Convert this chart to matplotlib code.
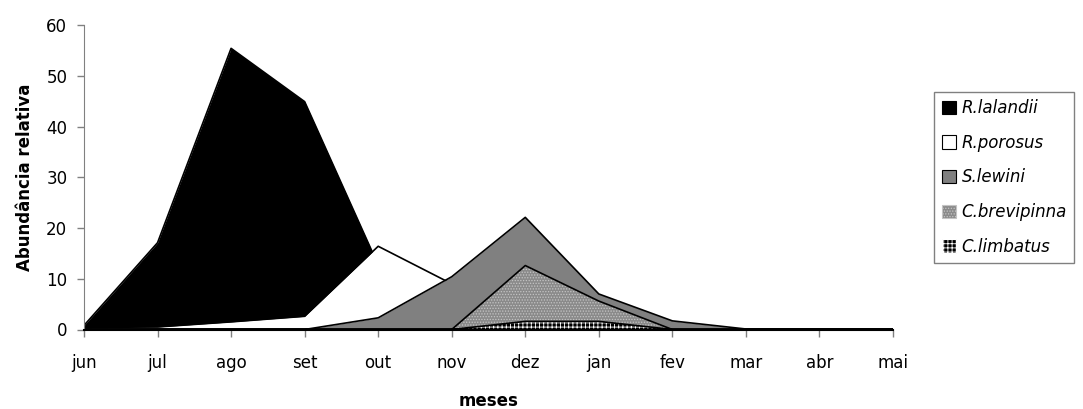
import matplotlib
matplotlib.use("Agg")
import matplotlib.pyplot as plt
from matplotlib.patches import Patch

plt.rcParams['font.family'] = ['DejaVu Sans']
plt.rcParams['hatch.linewidth'] = 0.6

months = ["jun", "jul", "ago", "set", "out", "nov", "dez", "jan", "fev", "mar", "abr", "mai"]

r_lalandii   = [0.8, 17.1, 55.4, 44.9, 12.7, 0, 0, 0, 0, 0, 0, 0]
r_porosus    = [0.4, 0.5, 1.5, 2.6, 16.4, 9.0, 2.0, 0, 0, 0, 0, 0]
s_lewini     = [0, 0, 0, 0, 2.3, 10.4, 22.1, 7.0, 1.7, 0.1, 0, 0]
c_brevipinna = [0, 0, 0, 0, 0, 0, 12.6, 5.6, 0, 0, 0, 0]
c_limbatus   = [0, 0, 0, 0, 0, 0, 1.6, 1.6, 0, 0, 0, 0]

series_names = ["R.lalandii", "R.porosus", "S.lewini", "C.brevipinna", "C.limbatus"]
series_vals = [r_lalandii, r_porosus, s_lewini, c_brevipinna, c_limbatus]
# (face colour, hatch, hatch colour)
styles = [
    ("#000000", None, "#000000"),
    ("#ffffff", None, "#ffffff"),
    ("#808080", None, "#808080"),
    ("#8a8a8a", "......", "#c4c4c4"),
    ("#000000", "++++", "#ffffff"),
]

FS = 12

fig = plt.figure(figsize=(10.83, 4.09), dpi=100)
ax = fig.add_axes([84 / 1083, 1 - 329.5 / 409, (893 - 84) / 1083, (329.5 - 25) / 409])

x = list(range(len(months)))
for vals, (fc, hatch, hc) in zip(series_vals, styles):
    ax.fill_between(x, 0, vals, facecolor=fc, edgecolor=hc, hatch=hatch, linewidth=0)
    ax.fill_between(x, 0, vals, facecolor="none", edgecolor="black", linewidth=1.2)

ax.set_xlim(0, 11)
ax.set_ylim(0, 60)
ax.set_yticks(range(0, 61, 10))
ax.set_xticks(x)
ax.set_xticklabels(months)

for s in ["top", "right"]:
    ax.spines[s].set_visible(False)
ax.spines["left"].set_color("#808080")
ax.spines["bottom"].set_color("#000000")
ax.spines["bottom"].set_linewidth(1.5)
ax.tick_params(axis="both", direction="out", length=5, width=1, color="#808080",
               labelsize=FS, labelcolor="black")
ax.tick_params(axis="y", pad=7)
ax.tick_params(axis="x", pad=13)

ax.set_ylabel("Abundância relativa", fontsize=FS, fontweight="bold", labelpad=9)
ax.set_xlabel("meses", fontsize=FS, fontweight="bold", labelpad=14)

handles = [Patch(facecolor=fc, edgecolor=("black" if hatch is None else hc), hatch=hatch, linewidth=0.8)
           for fc, hatch, hc in styles]
leg = fig.legend(handles, series_names, loc="upper left",
                 bbox_to_anchor=(934 / 1083, 1 - 91.5 / 409),
                 frameon=True, fancybox=False,
                 prop={"style": "italic", "size": FS},
                 handlelength=0.85, handleheight=0.85, handletextpad=0.35,
                 labelspacing=1.0, borderpad=0.45, borderaxespad=0)
leg.get_frame().set_edgecolor("#606060")
leg.get_frame().set_linewidth(1.0)

fig.savefig("out.png", dpi=100)
